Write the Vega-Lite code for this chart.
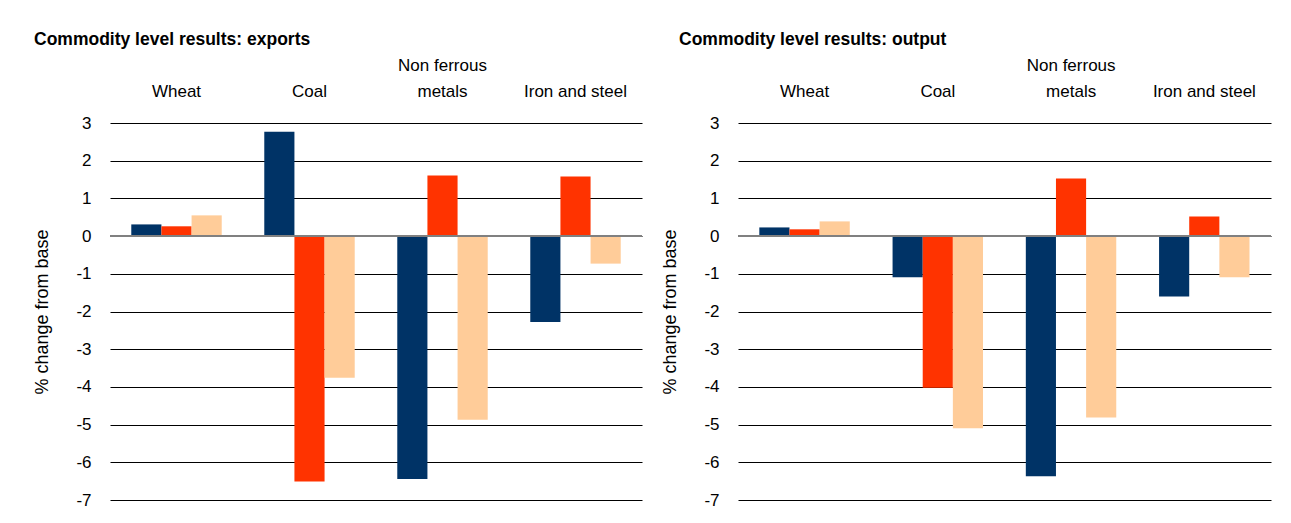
{
  "$schema": "https://vega.github.io/schema/vega-lite/v6.json",
  "background": "white",
  "padding": {"left": 33, "top": 30, "right": 5, "bottom": 5},
  "spacing": 18,
  "data": {
    "values": [
      {"panel": "exports", "commodity": "Wheat", "series": "Series 1", "value": 0.31},
      {"panel": "exports", "commodity": "Wheat", "series": "Series 2", "value": 0.26},
      {"panel": "exports", "commodity": "Wheat", "series": "Series 3", "value": 0.55},
      {"panel": "exports", "commodity": "Coal", "series": "Series 1", "value": 2.77},
      {"panel": "exports", "commodity": "Coal", "series": "Series 2", "value": -6.51},
      {"panel": "exports", "commodity": "Coal", "series": "Series 3", "value": -3.76},
      {"panel": "exports", "commodity": "Non ferrous metals", "series": "Series 1", "value": -6.44},
      {"panel": "exports", "commodity": "Non ferrous metals", "series": "Series 2", "value": 1.61},
      {"panel": "exports", "commodity": "Non ferrous metals", "series": "Series 3", "value": -4.87},
      {"panel": "exports", "commodity": "Iron and steel", "series": "Series 1", "value": -2.28},
      {"panel": "exports", "commodity": "Iron and steel", "series": "Series 2", "value": 1.58},
      {"panel": "exports", "commodity": "Iron and steel", "series": "Series 3", "value": -0.73},
      {"panel": "output", "commodity": "Wheat", "series": "Series 1", "value": 0.23},
      {"panel": "output", "commodity": "Wheat", "series": "Series 2", "value": 0.18},
      {"panel": "output", "commodity": "Wheat", "series": "Series 3", "value": 0.39},
      {"panel": "output", "commodity": "Coal", "series": "Series 1", "value": -1.09},
      {"panel": "output", "commodity": "Coal", "series": "Series 2", "value": -4.02},
      {"panel": "output", "commodity": "Coal", "series": "Series 3", "value": -5.1},
      {"panel": "output", "commodity": "Non ferrous metals", "series": "Series 1", "value": -6.37},
      {"panel": "output", "commodity": "Non ferrous metals", "series": "Series 2", "value": 1.53},
      {"panel": "output", "commodity": "Non ferrous metals", "series": "Series 3", "value": -4.81},
      {"panel": "output", "commodity": "Iron and steel", "series": "Series 1", "value": -1.6},
      {"panel": "output", "commodity": "Iron and steel", "series": "Series 2", "value": 0.52},
      {"panel": "output", "commodity": "Iron and steel", "series": "Series 3", "value": -1.09}
    ]
  },
  "hconcat": [
    {
      "width": 532,
      "height": 377,
      "title": {"text": "Commodity level results: exports", "dx": -76},
      "transform": [{"filter": "datum.panel == 'exports'"}],
      "layer": [
        {
          "mark": {"type": "bar"},
          "encoding": {
            "x": {"field": "commodity", "type": "nominal", "sort": ["Wheat", "Coal", "Non ferrous metals", "Iron and steel"], "scale": {"paddingInner": 0.32, "paddingOuter": 0.16}, "axis": {"orient": "top", "title": null, "labelExpr": "datum.value == 'Non ferrous metals' ? ['Non ferrous', 'metals'] : ['', datum.value]"}},
            "xOffset": {"field": "series", "type": "nominal"},
            "y": {"field": "value", "type": "quantitative", "scale": {"domain": [-7, 3], "nice": false, "zero": false}, "axis": {"title": "% change from base", "values": [-7, -6, -5, -4, -3, -2, -1, 0, 1, 2, 3], "tickCount": 20, "labelExpr": "'' + datum.value", "labelOverlap": false, "labelSeparation": 0}},
            "color": {"field": "series", "type": "nominal", "scale": {"range": ["#003366", "#FF3300", "#FFCC99"]}, "legend": null}
          }
        },
        {
          "mark": {"type": "rule", "color": "#808080", "strokeWidth": 2},
          "encoding": {"y": {"datum": 0}}
        }
      ]
    },
    {
      "width": 533,
      "height": 377,
      "title": {"text": "Commodity level results: output", "dx": -59},
      "transform": [{"filter": "datum.panel == 'output'"}],
      "layer": [
        {
          "mark": {"type": "bar"},
          "encoding": {
            "x": {"field": "commodity", "type": "nominal", "sort": ["Wheat", "Coal", "Non ferrous metals", "Iron and steel"], "scale": {"paddingInner": 0.32, "paddingOuter": 0.16}, "axis": {"orient": "top", "title": null, "labelExpr": "datum.value == 'Non ferrous metals' ? ['Non ferrous', 'metals'] : ['', datum.value]"}},
            "xOffset": {"field": "series", "type": "nominal"},
            "y": {"field": "value", "type": "quantitative", "scale": {"domain": [-7, 3], "nice": false, "zero": false}, "axis": {"title": "% change from base", "values": [-7, -6, -5, -4, -3, -2, -1, 0, 1, 2, 3], "tickCount": 20, "labelExpr": "'' + datum.value", "labelOverlap": false, "labelSeparation": 0}},
            "color": {"field": "series", "type": "nominal", "scale": {"range": ["#003366", "#FF3300", "#FFCC99"]}, "legend": null}
          }
        },
        {
          "mark": {"type": "rule", "color": "#808080", "strokeWidth": 2},
          "encoding": {"y": {"datum": 0}}
        }
      ]
    }
  ],
  "config": {
    "view": {"stroke": null},
    "title": {"anchor": "start", "frame": "group", "font": "Liberation Sans", "fontSize": 17.5, "fontWeight": "bold", "color": "#000000", "offset": 8},
    "axisX": {"domain": false, "ticks": false, "grid": false, "labelAngle": 0, "labelFont": "Liberation Sans", "labelFontSize": 17, "labelColor": "#000000", "labelPadding": 49, "labelLineHeight": 26, "labelBaseline": "bottom"},
    "axisY": {"domain": false, "ticks": false, "grid": true, "gridColor": "#000000", "gridWidth": 1, "labelFont": "Liberation Sans", "labelFontSize": 17, "labelColor": "#000000", "labelPadding": 19, "labelOverlap": false, "titleFont": "Liberation Sans", "titleFontSize": 18, "titleFontWeight": "normal", "titleColor": "#000000", "titlePadding": 24}
  }
}
